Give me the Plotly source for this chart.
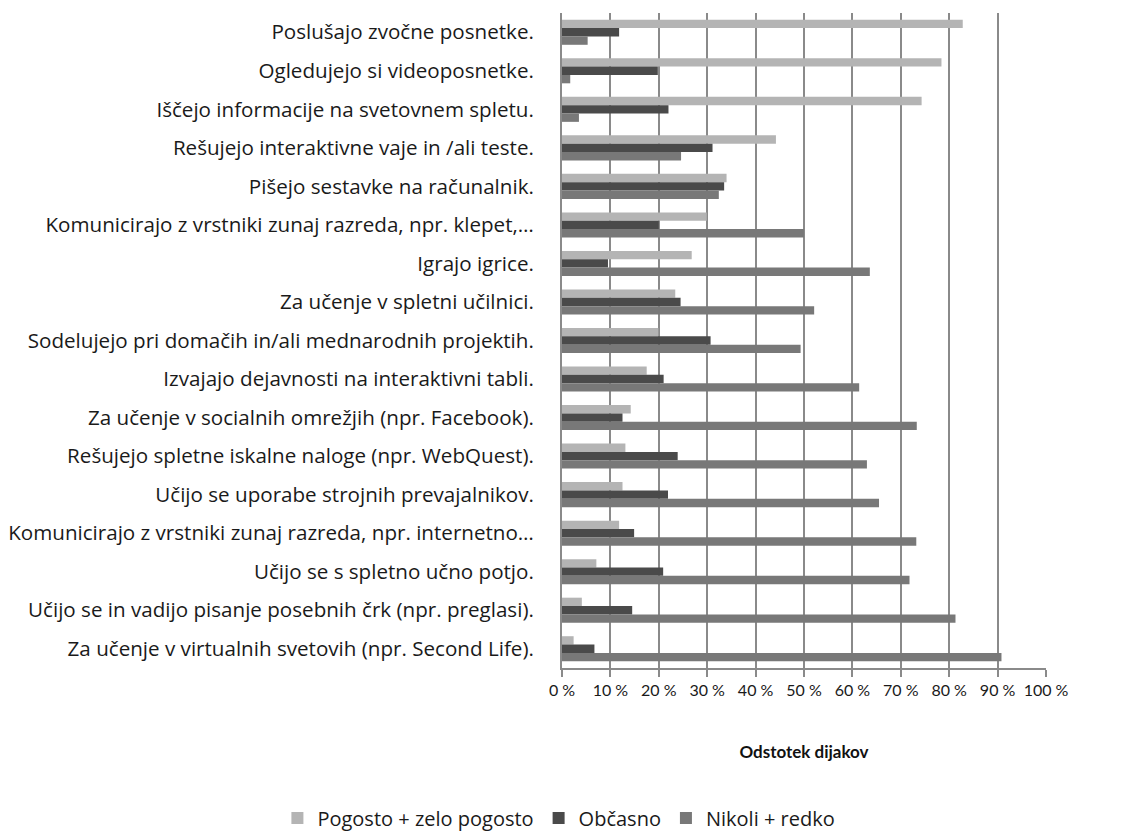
import plotly.graph_objects as go

# Activities, listed top to bottom
activities = [
    "Poslušajo zvočne posnetke.",
    "Ogledujejo si videoposnetke.",
    "Iščejo informacije na svetovnem spletu.",
    "Rešujejo interaktivne vaje in /ali teste.",
    "Pišejo sestavke na računalnik.",
    "Komunicirajo z vrstniki zunaj razreda, npr. klepet,…",
    "Igrajo igrice.",
    "Za učenje v spletni učilnici.",
    "Sodelujejo pri domačih in/ali mednarodnih projektih.",
    "Izvajajo dejavnosti na interaktivni tabli.",
    "Za učenje v socialnih omrežjih (npr. Facebook).",
    "Rešujejo spletne iskalne naloge (npr. WebQuest).",
    "Učijo se uporabe strojnih prevajalnikov.",
    "Komunicirajo z vrstniki zunaj razreda, npr. internetno…",
    "Učijo se s spletno učno potjo.",
    "Učijo se in vadijo pisanje posebnih črk (npr. preglasi).",
    "Za učenje v virtualnih svetovih (npr. Second Life).",
]

# Share of students (%)
pogosto = [82.8, 78.4, 74.3, 44.2, 34.0, 29.9, 26.8, 23.4, 19.9, 17.5, 14.2, 13.1, 12.5, 11.8, 7.1, 4.1, 2.4]
obcasno = [11.8, 19.8, 22.0, 31.1, 33.5, 20.0, 9.5, 24.5, 30.7, 21.0, 12.5, 23.9, 21.9, 14.9, 20.9, 14.5, 6.7]
nikoli = [5.3, 1.7, 3.5, 24.6, 32.4, 50.0, 63.6, 52.1, 49.3, 61.4, 73.3, 63.0, 65.5, 73.2, 71.8, 81.3, 90.8]

series_names = ["Pogosto + zelo pogosto", "Občasno", "Nikoli + redko"]
x_ticks = [0, 10, 20, 30, 40, 50, 60, 70, 80, 90, 100]
x_tick_labels = [f"{v} %" for v in x_ticks]

LABEL_FONT = "'Open Sans', Lato, sans-serif"
TICK_FONT = "Lato, 'Open Sans', sans-serif"
GRID = "#8a8a8a"
TEXT = "#1a1a1a"

fig = go.Figure()
for name, values, color in zip(series_names, [pogosto, obcasno, nikoli],
                               ["#b4b4b4", "#4a4a4a", "#787878"]):
    fig.add_trace(go.Bar(
        y=activities, x=values, name=name, orientation="h",
        marker=dict(color=color, line=dict(width=0)),
    ))

fig.update_layout(
    width=1121, height=838,
    margin=dict(l=562, r=75, t=13, b=170, autoexpand=False),
    paper_bgcolor="white", plot_bgcolor="white",
    barmode="group", bargap=0.35, bargroupgap=0,
    font=dict(family=LABEL_FONT, color=TEXT, size=17),
    xaxis=dict(
        range=[0, 100], tickvals=x_ticks, ticktext=x_tick_labels,
        showgrid=True, gridcolor=GRID, gridwidth=2, zeroline=False,
        showline=True, linecolor=GRID, linewidth=2,
        ticks="outside", ticklen=7, tickwidth=2, tickcolor=GRID,
        tickfont=dict(size=16, family=TICK_FONT, color=TEXT),
        title=dict(text="<b>Odstotek dijakov</b>", standoff=48,
                   font=dict(size=17, family=TICK_FONT, color="#111111")),
        automargin=False,
    ),
    yaxis=dict(
        type="category", autorange="reversed",
        showgrid=False, zeroline=False,
        showline=True, linecolor=GRID, linewidth=2,
        ticks="", ticklabelstandoff=22,
        tickfont=dict(size=20.6, family=LABEL_FONT, color=TEXT),
        automargin=False,
    ),
    legend=dict(
        orientation="h", xref="paper", yref="paper",
        x=-0.588, xanchor="left", y=-0.229, yanchor="middle",
        font=dict(size=20, family=LABEL_FONT, color=TEXT),
        traceorder="normal", itemwidth=30,
    ),
    showlegend=True,
)

fig.write_html("out.html")
